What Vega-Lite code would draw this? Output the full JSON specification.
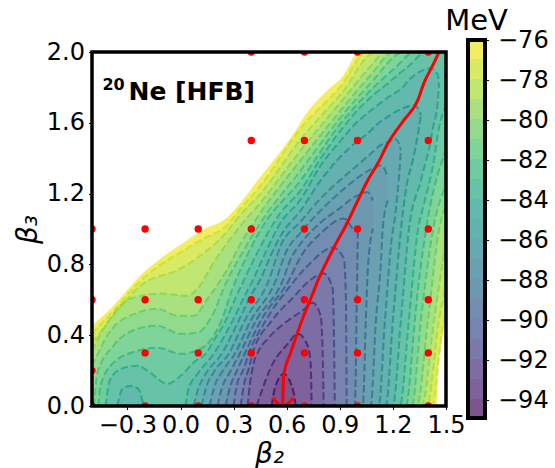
{"$schema":"https://vega.github.io/schema/vega-lite/v6.json","padding":{"left":14,"top":7,"right":0,"bottom":0},"background":"white","bounds":"full","spacing":-21,"config":{"view":{"stroke":null},"font":"DejaVu Sans","axis":{"labelFont":"DejaVu Sans","titleFont":"DejaVu Sans","labelFontSize":24,"titleFontSize":28,"labelColor":"black","titleColor":"black","tickColor":"black","tickSize":3.5,"tickWidth":1,"domain":false,"grid":false,"titleFontStyle":"italic","titleFontWeight":"normal","labelOverlap":false,"labelBound":false,"labelFlush":false}},
"datasets":{"cont":[
{"d":76,"x":-0.5,"h":0.453,"l":0},{"d":76,"x":-0.379,"h":0.567,"l":0},{"d":76,"x":-0.226,"h":0.737,"l":0},{"d":76,"x":-0.113,"h":0.833,"l":0},{"d":76,"x":0.017,"h":0.923,"l":0},{"d":76,"x":0.13,"h":0.997,"l":0},{"d":76,"x":0.255,"h":1.059,"l":0},{"d":76,"x":0.34,"h":1.15,"l":0},{"d":76,"x":0.436,"h":1.275,"l":0},{"d":76,"x":0.526,"h":1.388,"l":0},{"d":76,"x":0.651,"h":1.558,"l":0},{"d":76,"x":0.696,"h":1.631,"l":0},{"d":76,"x":0.832,"h":1.785,"l":0},{"d":76,"x":0.923,"h":1.87,"l":0},{"d":76,"x":1.007,"h":2,"l":0},{"d":76,"x":1.449,"h":2,"l":0},{"d":76,"x":1.454,"h":2,"l":0.17},{"d":76,"x":1.471,"h":2,"l":0.323},{"d":76,"x":1.488,"h":2,"l":0.436},{"d":76,"x":1.5,"h":2,"l":0.493},
{"d":77,"x":-0.5,"h":0.408,"l":0},{"d":77,"x":-0.379,"h":0.538,"l":0},{"d":77,"x":-0.226,"h":0.708,"l":0},{"d":77,"x":-0.113,"h":0.799,"l":0},{"d":77,"x":0.017,"h":0.878,"l":0},{"d":77,"x":0.13,"h":0.946,"l":0},{"d":77,"x":0.255,"h":1.014,"l":0},{"d":77,"x":0.34,"h":1.116,"l":0},{"d":77,"x":0.453,"h":1.246,"l":0},{"d":77,"x":0.679,"h":1.569,"l":0},{"d":77,"x":0.906,"h":1.807,"l":0},{"d":77,"x":1.053,"h":2,"l":0},{"d":77,"x":1.421,"h":2,"l":0},{"d":77,"x":1.483,"h":2,"l":0.453},{"d":77,"x":1.5,"h":2,"l":0.51},
{"d":78,"x":-0.5,"h":0.357,"l":0},{"d":78,"x":-0.379,"h":0.51,"l":0},{"d":78,"x":-0.226,"h":0.68,"l":0},{"d":78,"x":0,"h":0.776,"l":0},{"d":78,"x":0.113,"h":0.85,"l":0},{"d":78,"x":0.243,"h":0.963,"l":0},{"d":78,"x":0.34,"h":1.082,"l":0},{"d":78,"x":0.453,"h":1.201,"l":0},{"d":78,"x":0.679,"h":1.507,"l":0},{"d":78,"x":0.906,"h":1.762,"l":0},{"d":78,"x":1.104,"h":2,"l":0},{"d":78,"x":1.392,"h":2,"l":0},{"d":78,"x":1.46,"h":2,"l":0.482},{"d":78,"x":1.5,"h":2,"l":0.68},
{"d":79,"x":-0.5,"h":0.312,"l":0},{"d":79,"x":-0.413,"h":0.47,"l":0},{"d":79,"x":-0.283,"h":0.606,"l":0},{"d":79,"x":-0.113,"h":0.635,"l":0},{"d":79,"x":0.04,"h":0.623,"l":0},{"d":79,"x":0.096,"h":0.663,"l":0},{"d":79,"x":0.187,"h":0.81,"l":0},{"d":79,"x":0.34,"h":1.02,"l":0},{"d":79,"x":0.453,"h":1.15,"l":0},{"d":79,"x":0.679,"h":1.445,"l":0},{"d":79,"x":0.906,"h":1.717,"l":0},{"d":79,"x":1.075,"h":1.921,"l":0},{"d":79,"x":1.155,"h":2,"l":0},{"d":79,"x":1.364,"h":2,"l":0},{"d":79,"x":1.432,"h":2,"l":0.482},{"d":79,"x":1.5,"h":2,"l":0.935},
{"d":80,"x":-0.5,"h":0.227,"l":0},{"d":80,"x":-0.481,"h":0.266,"l":0},{"d":80,"x":-0.396,"h":0.425,"l":0},{"d":80,"x":-0.243,"h":0.527,"l":0},{"d":80,"x":-0.13,"h":0.55,"l":0},{"d":80,"x":-0.017,"h":0.51,"l":0},{"d":80,"x":0.074,"h":0.51,"l":0},{"d":80,"x":0.153,"h":0.606,"l":0},{"d":80,"x":0.266,"h":0.776,"l":0},{"d":80,"x":0.34,"h":0.918,"l":0},{"d":80,"x":0.453,"h":1.093,"l":0},{"d":80,"x":0.679,"h":1.388,"l":0},{"d":80,"x":0.906,"h":1.671,"l":0},{"d":80,"x":1.075,"h":1.87,"l":0},{"d":80,"x":1.205,"h":2,"l":0},{"d":80,"x":1.336,"h":2,"l":0},{"d":80,"x":1.398,"h":2,"l":0.482},{"d":80,"x":1.46,"h":2,"l":0.992},{"d":80,"x":1.5,"h":2,"l":1.133},
{"d":81,"x":-0.487,"h":0,"l":0},{"d":81,"x":-0.47,"h":0.187,"l":0},{"d":81,"x":-0.379,"h":0.34,"l":0},{"d":81,"x":-0.243,"h":0.436,"l":0},{"d":81,"x":-0.13,"h":0.453,"l":0},{"d":81,"x":0,"h":0.408,"l":0},{"d":81,"x":0.096,"h":0.414,"l":0},{"d":81,"x":0.187,"h":0.527,"l":0},{"d":81,"x":0.255,"h":0.691,"l":0},{"d":81,"x":0.34,"h":0.85,"l":0},{"d":81,"x":0.453,"h":1.037,"l":0},{"d":81,"x":0.679,"h":1.331,"l":0},{"d":81,"x":0.906,"h":1.632,"l":0},{"d":81,"x":1.075,"h":1.824,"l":0},{"d":81,"x":1.262,"h":2,"l":0},{"d":81,"x":1.307,"h":2,"l":0},{"d":81,"x":1.358,"h":2,"l":0.482},{"d":81,"x":1.426,"h":2,"l":0.992},{"d":81,"x":1.5,"h":2,"l":1.246},
{"d":82,"x":-0.464,"h":0,"l":0},{"d":82,"x":-0.453,"h":0.113,"l":0},{"d":82,"x":-0.379,"h":0.244,"l":0},{"d":82,"x":-0.243,"h":0.312,"l":0},{"d":82,"x":-0.13,"h":0.329,"l":0},{"d":82,"x":0,"h":0.295,"l":0},{"d":82,"x":0.113,"h":0.323,"l":0},{"d":82,"x":0.226,"h":0.47,"l":0},{"d":82,"x":0.3,"h":0.68,"l":0},{"d":82,"x":0.368,"h":0.833,"l":0},{"d":82,"x":0.453,"h":0.997,"l":0},{"d":82,"x":0.679,"h":1.275,"l":0},{"d":82,"x":0.906,"h":1.598,"l":0},{"d":82,"x":1.075,"h":1.785,"l":0},{"d":82,"x":1.245,"h":1.943,"l":0},{"d":82,"x":1.273,"h":1.972,"l":0},{"d":82,"x":1.319,"h":2,"l":0.425},{"d":82,"x":1.324,"h":2,"l":0.482},{"d":82,"x":1.387,"h":2,"l":0.992},{"d":82,"x":1.5,"h":2,"l":1.445},
{"d":83,"x":-0.424,"h":0,"l":0},{"d":83,"x":-0.396,"h":0.153,"l":0},{"d":83,"x":-0.323,"h":0.215,"l":0},{"d":83,"x":-0.243,"h":0.227,"l":0},{"d":83,"x":-0.17,"h":0.187,"l":0},{"d":83,"x":-0.074,"h":0.125,"l":0},{"d":83,"x":0,"h":0.17,"l":0},{"d":83,"x":0.085,"h":0.255,"l":0},{"d":83,"x":0.142,"h":0.294,"l":0},{"d":83,"x":0.187,"h":0.368,"l":0},{"d":83,"x":0.255,"h":0.481,"l":0},{"d":83,"x":0.311,"h":0.611,"l":0},{"d":83,"x":0.357,"h":0.708,"l":0},{"d":83,"x":0.425,"h":0.849,"l":0},{"d":83,"x":0.566,"h":1.093,"l":0},{"d":83,"x":0.679,"h":1.218,"l":0},{"d":83,"x":0.792,"h":1.399,"l":0},{"d":83,"x":0.906,"h":1.558,"l":0},{"d":83,"x":0.99,"h":1.66,"l":0},{"d":83,"x":1.075,"h":1.745,"l":0},{"d":83,"x":1.16,"h":1.813,"l":0},{"d":83,"x":1.239,"h":1.881,"l":0},{"d":83,"x":1.29,"h":1.921,"l":0.482},{"d":83,"x":1.341,"h":1.972,"l":0.992},{"d":83,"x":1.375,"h":2,"l":1.139},{"d":83,"x":1.432,"h":2,"l":1.388},{"d":83,"x":1.46,"h":2,"l":1.569},{"d":83,"x":1.5,"h":2,"l":1.7},
{"d":84,"c":1,"x":-0.357,"h":0,"l":0},{"d":84,"c":1,"x":-0.328,"h":0.096,"l":0},{"d":84,"c":1,"x":-0.283,"h":0.113,"l":0},{"d":84,"c":1,"x":-0.238,"h":0.096,"l":0},{"d":84,"c":1,"x":-0.209,"h":0,"l":0},
{"d":84,"x":0.028,"h":0,"l":0},{"d":84,"x":0.045,"h":0.096,"l":0},{"d":84,"x":0.096,"h":0.181,"l":0},{"d":84,"x":0.187,"h":0.294,"l":0},{"d":84,"x":0.294,"h":0.481,"l":0},{"d":84,"x":0.357,"h":0.611,"l":0},{"d":84,"x":0.407,"h":0.708,"l":0},{"d":84,"x":0.464,"h":0.832,"l":0},{"d":84,"x":0.566,"h":1.036,"l":0},{"d":84,"x":0.679,"h":1.167,"l":0},{"d":84,"x":0.792,"h":1.36,"l":0},{"d":84,"x":0.906,"h":1.501,"l":0},{"d":84,"x":0.979,"h":1.586,"l":0},{"d":84,"x":1.092,"h":1.683,"l":0},{"d":84,"x":1.2,"h":1.762,"l":0},{"d":84,"x":1.245,"h":1.79,"l":0.482},{"d":84,"x":1.29,"h":1.841,"l":0.992},{"d":84,"x":1.358,"h":1.892,"l":1.275},{"d":84,"x":1.415,"h":1.909,"l":1.507},{"d":84,"x":1.426,"h":1.904,"l":1.569},{"d":84,"x":1.454,"h":1.87,"l":1.722},{"d":84,"x":1.46,"h":1.813,"l":1.813},
{"d":85,"x":0.074,"h":0,"l":0},{"d":85,"x":0.096,"h":0.085,"l":0},{"d":85,"x":0.142,"h":0.181,"l":0},{"d":85,"x":0.232,"h":0.294,"l":0},{"d":85,"x":0.328,"h":0.481,"l":0},{"d":85,"x":0.396,"h":0.623,"l":0},{"d":85,"x":0.453,"h":0.719,"l":0},{"d":85,"x":0.509,"h":0.849,"l":0},{"d":85,"x":0.566,"h":0.962,"l":0},{"d":85,"x":0.679,"h":1.105,"l":0},{"d":85,"x":0.792,"h":1.275,"l":0},{"d":85,"x":0.906,"h":1.411,"l":0},{"d":85,"x":0.979,"h":1.479,"l":0},{"d":85,"x":1.058,"h":1.541,"l":0},{"d":85,"x":1.132,"h":1.609,"l":0},{"d":85,"x":1.16,"h":1.626,"l":0},{"d":85,"x":1.2,"h":1.654,"l":0.482},{"d":85,"x":1.245,"h":1.677,"l":0.992},{"d":85,"x":1.273,"h":1.688,"l":1.218},{"d":85,"x":1.319,"h":1.7,"l":1.416},{"d":85,"x":1.347,"h":1.671,"l":1.569},{"d":85,"x":1.358,"h":1.643,"l":1.643},
{"d":86,"x":0.119,"h":0,"l":0},{"d":86,"x":0.142,"h":0.096,"l":0},{"d":86,"x":0.192,"h":0.198,"l":0},{"d":86,"x":0.272,"h":0.294,"l":0},{"d":86,"x":0.362,"h":0.481,"l":0},{"d":86,"x":0.498,"h":0.708,"l":0},{"d":86,"x":0.566,"h":0.906,"l":0},{"d":86,"x":0.679,"h":1.042,"l":0},{"d":86,"x":0.792,"h":1.173,"l":0},{"d":86,"x":0.906,"h":1.28,"l":0},{"d":86,"x":1.019,"h":1.377,"l":0},{"d":86,"x":1.115,"h":1.462,"l":0},{"d":86,"x":1.12,"h":1.467,"l":0},{"d":86,"x":1.155,"h":1.484,"l":0.482},{"d":86,"x":1.2,"h":1.507,"l":0.992},{"d":86,"x":1.205,"h":1.513,"l":1.02},{"d":86,"x":1.228,"h":1.496,"l":1.218},{"d":86,"x":1.245,"h":1.445,"l":1.445},
{"d":87,"x":0.164,"h":0,"l":0},{"d":87,"x":0.187,"h":0.096,"l":0},{"d":87,"x":0.238,"h":0.198,"l":0},{"d":87,"x":0.306,"h":0.294,"l":0},{"d":87,"x":0.396,"h":0.481,"l":0},{"d":87,"x":0.538,"h":0.708,"l":0},{"d":87,"x":0.594,"h":0.866,"l":0},{"d":87,"x":0.679,"h":0.98,"l":0},{"d":87,"x":0.792,"h":1.105,"l":0},{"d":87,"x":0.906,"h":1.212,"l":0},{"d":87,"x":1.036,"h":1.314,"l":0},{"d":87,"x":1.075,"h":1.337,"l":0},{"d":87,"x":1.104,"h":1.348,"l":0.482},{"d":87,"x":1.132,"h":1.36,"l":0.805},{"d":87,"x":1.143,"h":1.354,"l":1.008},{"d":87,"x":1.171,"h":1.292,"l":1.161},
{"d":88,"x":0.209,"h":0,"l":0},{"d":88,"x":0.232,"h":0.096,"l":0},{"d":88,"x":0.283,"h":0.198,"l":0},{"d":88,"x":0.334,"h":0.294,"l":0},{"d":88,"x":0.425,"h":0.481,"l":0},{"d":88,"x":0.577,"h":0.708,"l":0},{"d":88,"x":0.623,"h":0.832,"l":0},{"d":88,"x":0.679,"h":0.918,"l":0},{"d":88,"x":0.792,"h":1.037,"l":0},{"d":88,"x":0.906,"h":1.122,"l":0},{"d":88,"x":0.979,"h":1.178,"l":0},{"d":88,"x":1.03,"h":1.201,"l":0},{"d":88,"x":1.047,"h":1.207,"l":0.482},{"d":88,"x":1.058,"h":1.207,"l":0.765},{"d":88,"x":1.087,"h":1.161,"l":1.003},
{"d":89,"x":0.255,"h":0,"l":0},{"d":89,"x":0.277,"h":0.096,"l":0},{"d":89,"x":0.323,"h":0.209,"l":0},{"d":89,"x":0.362,"h":0.294,"l":0},{"d":89,"x":0.453,"h":0.481,"l":0},{"d":89,"x":0.611,"h":0.708,"l":0},{"d":89,"x":0.679,"h":0.843,"l":0},{"d":89,"x":0.792,"h":0.975,"l":0},{"d":89,"x":0.923,"h":1.059,"l":0},{"d":89,"x":0.973,"h":1.003,"l":0},{"d":89,"x":0.985,"h":0.992,"l":0},{"d":89,"x":0.996,"h":0.986,"l":0.595},{"d":89,"x":1.002,"h":0.98,"l":0.98},
{"d":90,"x":0.3,"h":0,"l":0},{"d":90,"x":0.317,"h":0.113,"l":0},{"d":90,"x":0.357,"h":0.209,"l":0},{"d":90,"x":0.385,"h":0.294,"l":0},{"d":90,"x":0.481,"h":0.481,"l":0},{"d":90,"x":0.634,"h":0.696,"l":0},{"d":90,"x":0.736,"h":0.81,"l":0},{"d":90,"x":0.86,"h":0.895,"l":0},{"d":90,"x":0.923,"h":0.833,"l":0},{"d":90,"x":0.934,"h":0.64,"l":0},{"d":90,"x":0.939,"h":0,"l":0},
{"d":91,"x":0.34,"h":0,"l":0},{"d":91,"x":0.357,"h":0.113,"l":0},{"d":91,"x":0.385,"h":0.209,"l":0},{"d":91,"x":0.407,"h":0.294,"l":0},{"d":91,"x":0.515,"h":0.481,"l":0},{"d":91,"x":0.64,"h":0.617,"l":0},{"d":91,"x":0.736,"h":0.714,"l":0},{"d":91,"x":0.809,"h":0.748,"l":0},{"d":91,"x":0.86,"h":0.663,"l":0},{"d":91,"x":0.866,"h":0.453,"l":0},{"d":91,"x":0.872,"h":0,"l":0},
{"d":92,"x":0.379,"h":0,"l":0},{"d":92,"x":0.391,"h":0.113,"l":0},{"d":92,"x":0.407,"h":0.215,"l":0},{"d":92,"x":0.441,"h":0.311,"l":0},{"d":92,"x":0.492,"h":0.379,"l":0},{"d":92,"x":0.606,"h":0.482,"l":0},{"d":92,"x":0.696,"h":0.544,"l":0},{"d":92,"x":0.747,"h":0.584,"l":0},{"d":92,"x":0.792,"h":0.51,"l":0},{"d":92,"x":0.804,"h":0.266,"l":0},{"d":92,"x":0.809,"h":0,"l":0},
{"d":93,"x":0.43,"h":0,"l":0},{"d":93,"x":0.453,"h":0.068,"l":0},{"d":93,"x":0.509,"h":0.215,"l":0},{"d":93,"x":0.606,"h":0.351,"l":0},{"d":93,"x":0.662,"h":0.408,"l":0},{"d":93,"x":0.719,"h":0.34,"l":0},{"d":93,"x":0.736,"h":0.227,"l":0},{"d":93,"x":0.741,"h":0,"l":0},
{"d":94,"x":0.515,"h":0,"l":0},{"d":94,"x":0.532,"h":0.096,"l":0},{"d":94,"x":0.583,"h":0.181,"l":0},{"d":94,"x":0.64,"h":0.074,"l":0},{"d":94,"x":0.651,"h":0,"l":0}
],
"path":[{"p":1,"x":0.577,"y":0},{"p":1,"x":0.583,"y":0.17},{"p":1,"x":0.622,"y":0.3},{"p":1,"x":0.651,"y":0.385},{"p":1,"x":0.696,"y":0.51},{"p":1,"x":0.736,"y":0.606},{"p":1,"x":0.781,"y":0.72},{"p":1,"x":0.838,"y":0.839},{"p":1,"x":0.894,"y":0.946},{"p":1,"x":0.934,"y":1.02},{"p":1,"x":1.002,"y":1.161},{"p":1,"x":1.058,"y":1.275},{"p":1,"x":1.115,"y":1.371},{"p":1,"x":1.172,"y":1.484},{"p":1,"x":1.262,"y":1.615},{"p":1,"x":1.341,"y":1.728},{"p":1,"x":1.375,"y":1.824},{"p":1,"x":1.432,"y":1.938},{"p":1,"x":1.46,"y":2},{"p":2,"x":0.521,"y":0.045},{"p":2,"x":0.577,"y":0},{"p":2,"x":0.64,"y":0.045}],
"pts":[{"x":-0.5,"y":0},{"x":-0.5,"y":0.2},{"x":-0.5,"y":0.6},{"x":-0.5,"y":1},{"x":-0.2,"y":0},{"x":-0.2,"y":0.3},{"x":-0.2,"y":0.6},{"x":-0.2,"y":1},{"x":0.1,"y":0},{"x":0.1,"y":0.3},{"x":0.1,"y":0.6},{"x":0.1,"y":1},{"x":0.4,"y":0},{"x":0.4,"y":0.3},{"x":0.4,"y":0.6},{"x":0.4,"y":1},{"x":0.4,"y":1.5},{"x":0.4,"y":2},{"x":0.7,"y":0},{"x":0.7,"y":0.3},{"x":0.7,"y":0.6},{"x":0.7,"y":1},{"x":0.7,"y":1.5},{"x":0.7,"y":2},{"x":1,"y":0},{"x":1,"y":0.3},{"x":1,"y":0.6},{"x":1,"y":1},{"x":1,"y":1.5},{"x":1,"y":2},{"x":1.4,"y":0},{"x":1.4,"y":0.3},{"x":1.4,"y":0.6},{"x":1.4,"y":1},{"x":1.4,"y":1.5},{"x":1.4,"y":2}],
"bar":[{"d":76,"a":-76,"b":-76.95},{"d":77,"a":-76.95,"b":-77.95},{"d":78,"a":-77.95,"b":-78.95},{"d":79,"a":-78.95,"b":-79.95},{"d":80,"a":-79.95,"b":-80.95},{"d":81,"a":-80.95,"b":-81.95},{"d":82,"a":-81.95,"b":-82.95},{"d":83,"a":-82.95,"b":-83.95},{"d":84,"a":-83.95,"b":-84.95},{"d":85,"a":-84.95,"b":-85.95},{"d":86,"a":-85.95,"b":-86.95},{"d":87,"a":-86.95,"b":-87.95},{"d":88,"a":-87.95,"b":-88.95},{"d":89,"a":-88.95,"b":-89.95},{"d":90,"a":-89.95,"b":-90.95},{"d":91,"a":-90.95,"b":-91.95},{"d":92,"a":-91.95,"b":-92.95},{"d":93,"a":-92.95,"b":-93.95},{"d":94,"a":-93.95,"b":-94.9}]
},
"hconcat":[
{"width":354,"height":366,
"encoding":{"x":{"field":"x","type":"quantitative","scale":{"domain":[-0.5,1.5],"nice":false,"zero":false},"axis":{"values":[-0.3,0,0.3,0.6,0.9,1.2,1.5],"format":".1f","title":"β₂","labelPadding":4,"titlePadding":3}},"y":{"field":"y","type":"quantitative","scale":{"domain":[0,2],"nice":false,"range":[366,12]},"axis":{"values":[0,0.4,0.8,1.2,1.6,2],"format":".1f","title":"β₃","labelPadding":4,"titlePadding":4}}},
"layer":[
{"data":{"name":"cont"},"mark":{"type":"area","clip":true,"interpolate":"monotone"},"encoding":{"y":{"field":"h","type":"quantitative"},"y2":{"field":"l"},"detail":{"field":"c"},"color":{"field":"d","type":"ordinal","scale":{"domain":[76,77,78,79,80,81,82,83,84,85,86,87,88,89,90,91,92,93,94],"range":["#f2ed62","#daea64","#c1e672","#a9e181","#92db8e","#80d49a","#70cba2","#66c3a8","#63baac","#64b1af","#66a9b0","#6aa0b0","#6e97b0","#728daf","#7784ad","#7b79aa","#7e6da3","#7f619b","#7e548e"]},"legend":null}}},
{"data":{"name":"cont"},"transform":[{"filter":"datum.d>76"}],"mark":{"type":"line","clip":true,"interpolate":"monotone","strokeWidth":2,"strokeDash":[7.4,3.2],"opacity":0.8},"encoding":{"y":{"field":"h","type":"quantitative"},"detail":{"field":"c"},"color":{"field":"d","type":"ordinal","scale":{"domain":[77,78,79,80,81,82,83,84,85,86,87,88,89,90,91,92,93,94],"range":["#cae121","#a7db35","#84d44b","#64cb5e","#49c16e","#33b57a","#25a983","#209d89","#21908c","#25848e","#2a778e","#306a8e","#365c8d","#3c4f8a","#423f85","#472e7c","#481e70","#460b5e"]},"legend":null}}},
{"data":{"name":"cont"},"transform":[{"filter":"datum.d>76 && datum.d<90"}],"mark":{"type":"line","clip":true,"interpolate":"monotone","strokeWidth":2,"strokeDash":[7.4,3.2],"opacity":0.8},"encoding":{"y":{"field":"l","type":"quantitative"},"detail":{"field":"c"},"color":{"field":"d","type":"ordinal","scale":{"domain":[77,78,79,80,81,82,83,84,85,86,87,88,89,90,91,92,93,94],"range":["#cae121","#a7db35","#84d44b","#64cb5e","#49c16e","#33b57a","#25a983","#209d89","#21908c","#25848e","#2a778e","#306a8e","#365c8d","#3c4f8a","#423f85","#472e7c","#481e70","#460b5e"]},"legend":null}}},
{"data":{"name":"pts"},"mark":{"type":"circle","clip":true,"size":55,"color":"#ff0000","opacity":1}},
{"data":{"name":"path"},"mark":{"type":"line","clip":true,"color":"#ff0000","strokeWidth":3,"interpolate":"monotone"},"encoding":{"detail":{"field":"p"}}},
{"data":{"values":[{"x":-0.441,"y":1.785,"t":"20"}]},"mark":{"type":"text","align":"left","baseline":"alphabetic","fontWeight":"bold","fontSize":16,"font":"DejaVu Sans","color":"black"},"encoding":{"text":{"field":"t"}}},
{"data":{"values":[{"x":-0.294,"y":1.728,"t":"Ne [HFB]"}]},"mark":{"type":"text","align":"left","baseline":"alphabetic","fontWeight":"bold","fontSize":25,"font":"DejaVu Sans","color":"black"},"encoding":{"text":{"field":"t"}}},
{"data":{"values":[{"x":-0.5,"x1":1.5,"y":2,"y1":2.068}]},"mark":{"type":"rect","fill":"white","strokeWidth":0,"clip":true},"encoding":{"x2":{"field":"x1"},"y2":{"field":"y1"}}},
{"data":{"values":[{"x":-0.5,"x1":1.5,"y":0,"y1":2}]},"mark":{"type":"rect","fill":"transparent","stroke":"black","strokeWidth":3.5,"clip":false},"encoding":{"x2":{"field":"x1"},"y2":{"field":"y1"}}}
],"resolve":{"scale":{"color":"independent"}}},
{"width":17,"height":378,"title":{"text":"MeV","fontSize":29,"fontWeight":"normal","font":"DejaVu Sans","anchor":"middle","offset":-8,"color":"black"},
"layer":[
{"data":{"name":"bar"},"mark":{"type":"rect"},"encoding":{"y":{"field":"a","type":"quantitative","scale":{"domain":[-94.9,-76],"nice":false,"zero":false},"axis":{"orient":"right","values":[-76,-78,-80,-82,-84,-86,-88,-90,-92,-94],"format":"d","title":null,"labelPadding":9}},"y2":{"field":"b"},"color":{"field":"d","type":"ordinal","scale":{"domain":[76,77,78,79,80,81,82,83,84,85,86,87,88,89,90,91,92,93,94],"range":["#f2ed62","#daea64","#c1e672","#a9e181","#92db8e","#80d49a","#70cba2","#66c3a8","#63baac","#64b1af","#66a9b0","#6aa0b0","#6e97b0","#728daf","#7784ad","#7b79aa","#7e6da3","#7f619b","#7e548e"]},"legend":null}}},
{"data":{"values":[{"a":1}]},"mark":{"type":"rect","fill":"transparent","stroke":"black","strokeWidth":4},"encoding":{"y":{"datum":-76},"y2":{"datum":-94.9}}}
]}
]}
